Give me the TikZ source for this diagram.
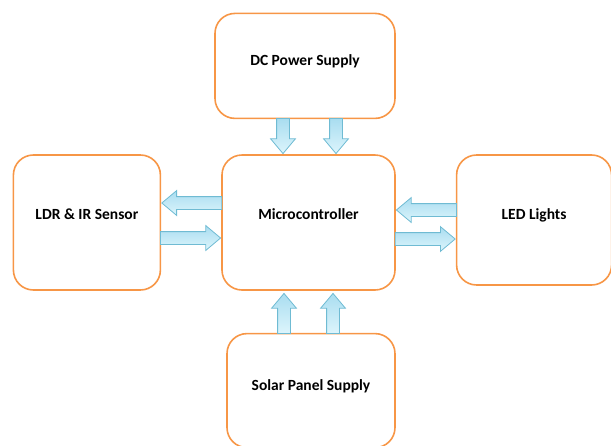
\documentclass[tikz,border=0pt]{standalone}
\usepackage{fontspec}
\setmainfont{Carlito}
\usepackage{tikz}
\usetikzlibrary{positioning,shapes.arrows,calc}
\definecolor{boxorange}{HTML}{F79646}
\definecolor{arrowedge}{HTML}{6FBBD3}
\definecolor{arrowtop}{HTML}{A9DDF0}
\definecolor{arrowbot}{HTML}{DDF5FC}

\begin{document}
\begin{tikzpicture}[
  x=1pt,y=1pt,
  font=\bfseries\fontsize{15.5}{18}\selectfont,
  blk/.style={draw=boxorange,line width=1.6pt,rounded corners=20pt,align=center,text depth=12pt},
  barrow/.style={single arrow,draw=arrowedge,line width=0.8pt,top color=arrowtop,bottom color=arrowbot,
    text height=0pt,text depth=0pt,inner xsep=0pt,inner ysep=6pt,anchor=tip,
    single arrow head extend=6pt,single arrow tip angle=80}
]
\useasboundingbox (0,0) rectangle (611,-445);

% ---- blocks ----
\node[blk,minimum width=173pt,minimum height=135pt,text depth=16pt] (mcu) at (308.5,-222.5) {Microcontroller};
\node[blk,minimum width=180pt,minimum height=105pt,above=35pt of mcu,xshift=-3.5pt] (dc) {DC Power Supply};
\node[blk,minimum width=147pt,minimum height=135pt,text depth=16pt,left=60pt of mcu] (ldr) {LDR \& IR Sensor};
\node[blk,minimum width=155pt,minimum height=130pt,right=60pt of mcu,yshift=2.5pt] (led) {LED Lights};
\node[blk,minimum width=168pt,minimum height=114pt,below=42pt of mcu,xshift=2.5pt] (solar) {Solar Panel Supply};

% ---- block arrows (tip on the box they point at) ----
\node[barrow,rotate=-90,minimum height=35pt] (dcarr1) at ($(mcu.north)+(-25.5,0)$) {};
\node[barrow,rotate=-90,minimum height=35pt] (dcarr2) at ($(mcu.north)+(27.5,0)$) {};
\node[barrow,rotate=180,minimum height=60pt] (toldr) at ($(ldr.east)+(0,19.5)$) {};
\node[barrow,minimum height=60pt] (fromldr) at ($(mcu.west)+(0,-15.5)$) {};
\node[barrow,rotate=180,minimum height=60pt] (fromled) at ($(mcu.east)+(0,12.5)$) {};
\node[barrow,minimum height=60pt] (toled) at ($(led.west |- mcu.east)+(0,-16.5)$) {};
\node[barrow,rotate=90,minimum height=40pt] (solararr1) at ($(mcu.south)+(-24.5,-2)$) {};
\node[barrow,rotate=90,minimum height=40pt] (solararr2) at ($(mcu.south)+(24.5,-2)$) {};
\end{tikzpicture}
\end{document}
